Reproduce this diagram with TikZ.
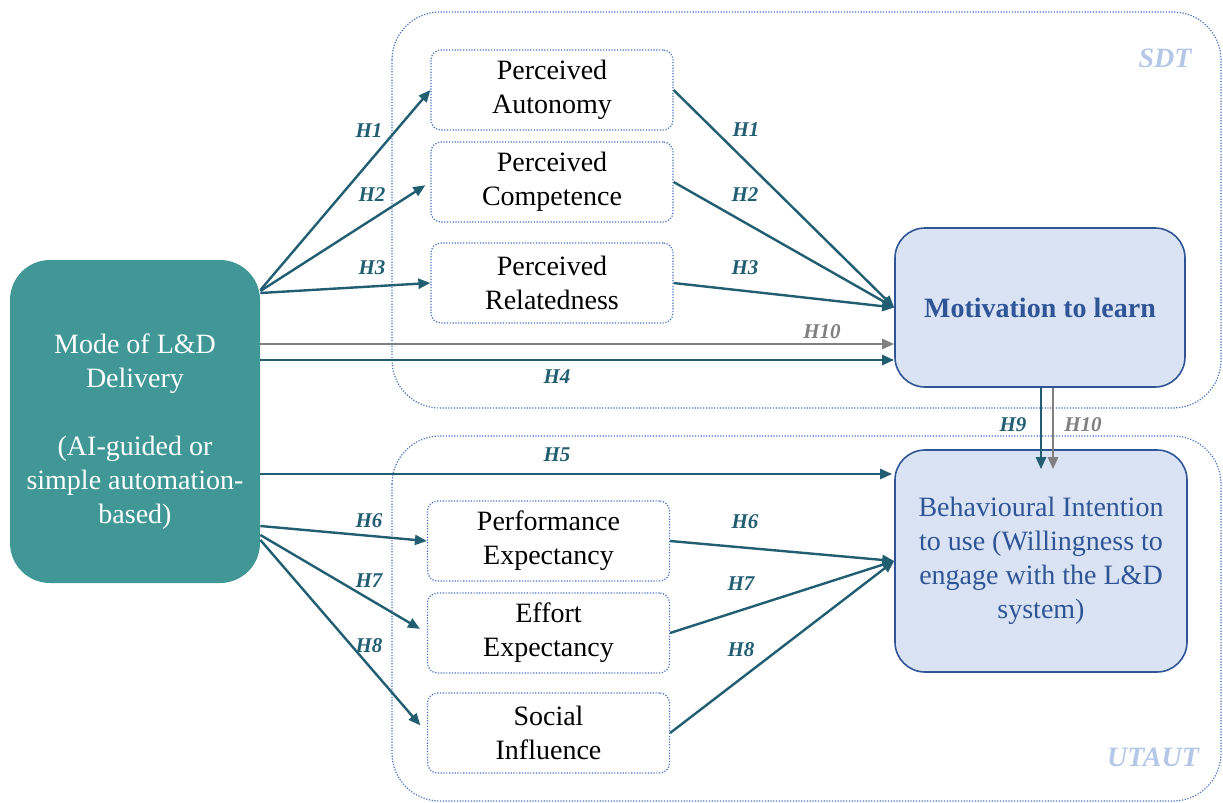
\documentclass[tikz,border=0pt]{standalone}
\usepackage{fontspec}
\setmainfont{Liberation Serif}
\usetikzlibrary{arrows.meta}
\definecolor{tealbox}{RGB}{64,151,150}
\definecolor{arrowc}{RGB}{33,94,114}
\definecolor{greyc}{RGB}{128,128,128}
\definecolor{bluefill}{RGB}{218,227,243}
\definecolor{blueline}{RGB}{47,85,151}
\definecolor{dotc}{RGB}{68,114,196}
\definecolor{framelab}{RGB}{180,199,231}
\begin{document}
\begin{tikzpicture}[x=0.5pt, y=-0.5pt,
		every node/.style = {font=\fontsize{14}{17}\selectfont},
		frame/.style = {draw=dotc, line width=0.6pt, dash pattern=on 0.6pt off 0.8pt, rounded corners=24pt},
		sub/.style = {draw=dotc, line width=0.6pt, dash pattern=on 0.6pt off 0.8pt, rounded corners=5pt, minimum width=121pt, minimum height=40pt, align=center, inner sep=0pt},
		outc/.style = {draw=blueline, line width=0.8pt, fill=bluefill, text=blueline, rounded corners=15pt, align=center, inner sep=0pt},
		arr/.style = {draw=arrowc, line width=1.2pt, -{Triangle[length=6pt, width=5pt]}},
		garr/.style = {arr, draw=greyc},
		lab/.style = {text=arrowc, font=\fontsize{10.5}{12}\selectfont\bfseries\itshape, inner sep=0pt},
		glab/.style = {lab, text=greyc},
		flab/.style = {text=framelab, font=\fontsize{14}{17}\selectfont\bfseries\itshape, inner sep=0pt}]
		\useasboundingbox (0,0) rectangle (1223,803);
		\draw[frame] (392,12) rectangle (1221,408);
		\draw[frame] (392,436) rectangle (1221,801);
		\node[flab] (sdt) at (1165,58) {SDT};
		\node[flab] (utaut) at (1153,757) {UTAUT};
		\node[draw=none, fill=tealbox, text=white, rounded corners=20pt, minimum width=125pt, minimum height=161.5pt, align=center, inner sep=0pt] (mode) at (135,421.5) {\rule{0pt}{20pt}Mode of L\&D\\Delivery\\[17pt](AI-guided or\\simple automation-\\based)};
		\node[sub] (pa) at (552,90) {Perceived\\Autonomy};
		\node[sub] (pc) at (552,182) {Perceived\\Competence};
		\node[sub] (pr) at (552,283) {Perceived\\Relatedness};
		\node[sub] (pe) at (548.5,541) {Performance\\Expectancy};
		\node[sub] (ee) at (548.5,633) {Effort\\Expectancy};
		\node[sub] (si) at (548.5,733) {Social\\Influence};
		\node[outc, minimum width=145pt, minimum height=79.5pt, font=\fontsize{14}{17}\selectfont\bfseries] (mot) at (1040,307.5) {Motivation to learn};
		\node[outc, minimum width=146pt, minimum height=111pt] (bi) at (1041,561) {Behavioural Intention\\to use (Willingness to\\engage with the L\&D\\system)};
		\draw[arr] (mode.east |- 0,290) -- (pa.west);
		\draw[arr, shorten >=3pt] (mode.east |- 0,291) -- (pc.west);
		\draw[arr] (mode.east |- 0,293) -- (pr.west);
		\draw[garr] (mode.east |- 0,344) -- (mot.west |- 0,344);
		\draw[arr] (mode.east |- 0,360) -- (mot.west |- 0,360);
		\draw[arr] (pa.east) -- (mot.west);
		\draw[arr] (pc.east) -- (mot.west);
		\draw[arr] (pr.east) -- (mot.west);
		\draw[arr] ([xshift=0.5pt]mot.south) -- ([xshift=0pt, yshift=-10pt]bi.north);
		\draw[garr] ([xshift=6.5pt]mot.south) -- ([xshift=6pt, yshift=-10pt]bi.north);
		\draw[arr, shorten >=1pt] (mode.east |- 0,474) -- (bi.west |- 0,474);
		\draw[arr] (mode.east |- 0,526) -- (pe.west);
		\draw[arr, shorten >=4pt] (mode.east |- 0,535) -- (ee.west);
		\draw[arr, shorten >=5pt] (mode.east |- 0,540) -- (si.west);
		\draw[arr] (pe.east) -- (bi.west);
		\draw[arr] (ee.east) -- (bi.west);
		\draw[arr] (si.east) -- (bi.west);
		\node[lab] (l1) at (369,131) {H1};
		\node[lab] (l2) at (372,195) {H2};
		\node[lab] (l3) at (372,268) {H3};
		\node[glab] (l10a) at (822,332) {H10};
		\node[lab] (l4) at (557,377) {H4};
		\node[lab] (r1) at (746,130) {H1};
		\node[lab] (r2) at (745,195) {H2};
		\node[lab] (r3) at (745,268) {H3};
		\node[lab] (l9) at (1013,425) {H9};
		\node[glab] (l10b) at (1083,425) {H10};
		\node[lab] (l5) at (557,455) {H5};
		\node[lab] (l6) at (369,521) {H6};
		\node[lab] (l7) at (369,581) {H7};
		\node[lab] (l8) at (369,646) {H8};
		\node[lab] (r6) at (745,522) {H6};
		\node[lab] (r7) at (741,584) {H7};
		\node[lab] (r8) at (741,650) {H8};
	\end{tikzpicture}
\end{document}
